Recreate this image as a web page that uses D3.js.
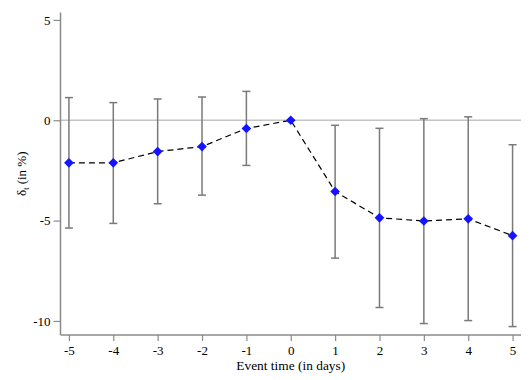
<!DOCTYPE html>
<html><head><meta charset="utf-8">
<script src="https://cdn.jsdelivr.net/npm/d3@7"></script>
<style>body{margin:0;background:#fff}text{font-family:"Liberation Serif","Times New Roman",serif}</style>
</head><body><svg id="c" width="532" height="380"></svg>
<script>
const eventTime = [-5,-4,-3,-2,-1,0,1,2,3,4,5];
const estimate = [-2.12,-2.12,-1.56,-1.31,-0.41,0,-3.55,-4.86,-5.02,-4.91,-5.75];
const ciUpper = [1.13,0.88,1.06,1.16,1.44,0,-0.25,-0.40,0.08,0.17,-1.22];
const ciLower = [-5.37,-5.14,-4.16,-3.73,-2.25,0,-6.87,-9.33,-10.13,-9.98,-10.28];
const yTicks = [5,0,-5,-10];
const xTicks = [-5,-4,-3,-2,-1,0,1,2,3,4,5];

const svg = d3.select("#c");
const L=60.5, R=521, T=12.5, B=335;
const x = d3.scaleLinear().domain([-5.19,5.19]).range([L,R]);
const y = d3.scaleLinear().domain([-10.7,5.37]).range([B,T]);
const axisCol="#8a8a8a";

// zero line
svg.append("line").attr("x1",L).attr("x2",R).attr("y1",y(0)).attr("y2",y(0))
  .attr("stroke","#c4c4c4").attr("stroke-width",1.5);

// axes
const ya = svg.append("g").attr("transform",`translate(${L},0)`)
  .call(d3.axisLeft(y).tickValues(yTicks).tickSize(7).tickPadding(3).tickFormat(d=>String(d).replace("−","-")));
const xa = svg.append("g").attr("transform",`translate(0,${B})`)
  .call(d3.axisBottom(x).tickValues(xTicks).tickSize(6).tickPadding(5).tickFormat(d=>String(d).replace("−","-")));
[ya,xa].forEach(g=>{
  g.attr("font-family",null);
  g.select(".domain").attr("stroke",axisCol).attr("stroke-width",1.5);
  g.selectAll(".tick line").attr("stroke",axisCol).attr("stroke-width",1.2);
  g.selectAll(".tick text").attr("fill","#000").style("font-size","13px");
});
ya.select(".domain").attr("d",`M0,${T}V${B}`);
xa.select(".domain").attr("d",`M${L},0H${R}`);

// error bars
const eb = svg.append("g");
eventTime.forEach((t,i)=>{
  if (ciUpper[i]===ciLower[i]) return;
  const xc=x(t);
  eb.append("line").attr("x1",xc).attr("x2",xc).attr("y1",y(ciUpper[i])).attr("y2",y(ciLower[i]))
    .attr("stroke","#7a7a7a").attr("stroke-width",1.5);
  [ciUpper[i],ciLower[i]].forEach(v=>eb.append("line").attr("x1",xc-4).attr("x2",xc+4)
    .attr("y1",y(v)).attr("y2",y(v)).attr("stroke","#7a7a7a").attr("stroke-width",1.5));
});

// dashed line
svg.append("path").datum(eventTime.map((t,i)=>[t,estimate[i]]))
  .attr("d",d3.line().x(d=>x(d[0])).y(d=>y(d[1])))
  .attr("fill","none").attr("stroke","#000").attr("stroke-width",1.2).attr("stroke-dasharray","6,4");

// markers
svg.append("g").selectAll("path").data(eventTime.map((t,i)=>[t,estimate[i]])).join("path")
  .attr("transform",d=>`translate(${x(d[0])},${y(d[1])})`)
  .attr("d",d3.symbol().type(d3.symbolDiamond2).size(60))
  .attr("fill","#1414ff");

// titles
svg.append("text").attr("x",(L+R)/2).attr("y",370).attr("text-anchor","middle")
  .style("font-size","13.4px").text("Event time (in days)");
const yl = svg.append("text").attr("transform",`translate(26,${(T+B)/2}) rotate(-90)`)
  .attr("text-anchor","middle").style("font-size","13px");
yl.append("tspan").text("δ");
yl.append("tspan").attr("dy",3).style("font-size","8px").text("t");
yl.append("tspan").attr("dy",-3).text(" (in %)");
</script></body></html>
